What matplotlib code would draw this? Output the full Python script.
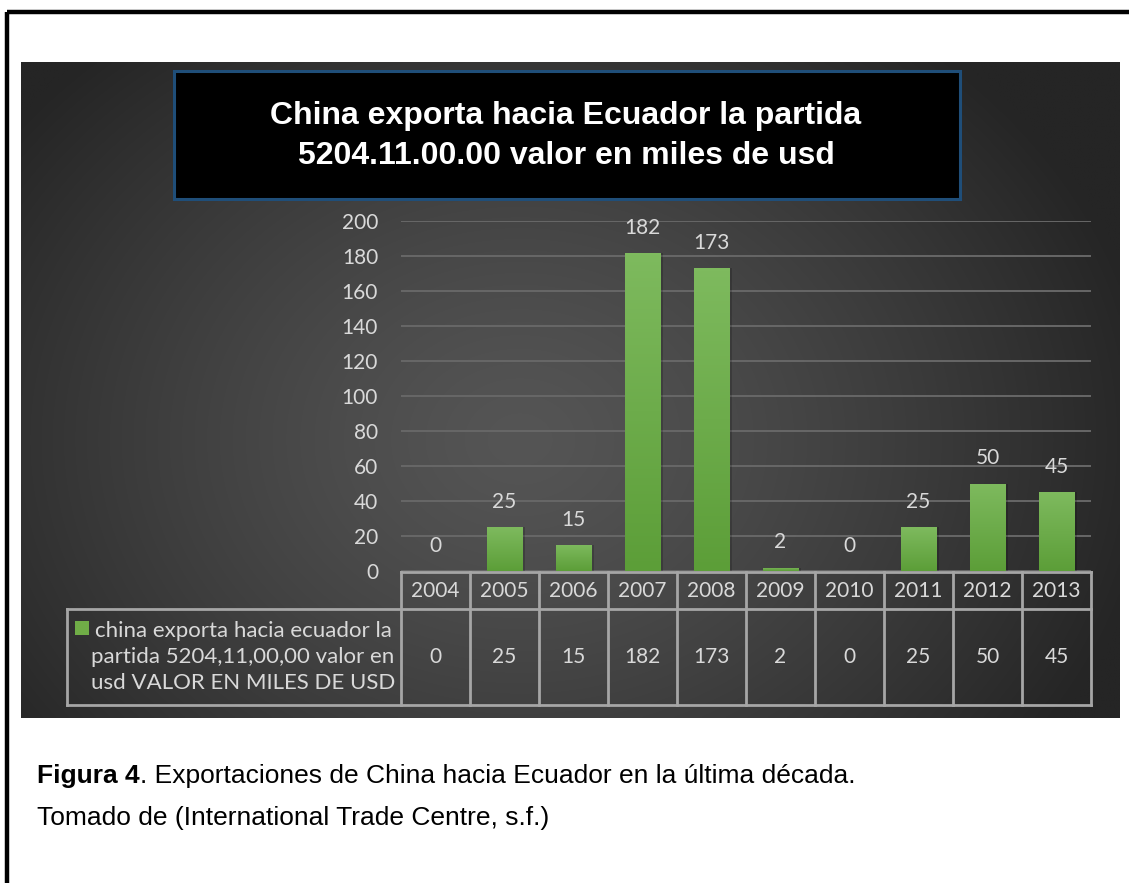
import numpy as np
import matplotlib
matplotlib.use("Agg")
import matplotlib.pyplot as plt
from matplotlib.patches import Rectangle

# ---- data ----
years = ["2004", "2005", "2006", "2007", "2008", "2009", "2010", "2011", "2012", "2013"]
values = [0, 25, 15, 182, 173, 2, 0, 25, 50, 45]
yticks = [0, 20, 40, 60, 80, 100, 120, 140, 160, 180, 200]
title = "China exporta hacia Ecuador la partida\n5204.11.00.00 valor en miles de usd"
series_label = "china exporta hacia ecuador la\npartida 5204,11,00,00 valor en\nusd VALOR EN MILES DE USD"
caption_bold = "Figura 4"
caption_rest = ". Exportaciones de China hacia Ecuador en la última década."
source = "Tomado de (International Trade Centre, s.f.)"

W, H = 1129, 883
DPI = 100
fig = plt.figure(figsize=(W / DPI, H / DPI), dpi=DPI)
fig.patch.set_facecolor("white")

# background pixel-coordinate axes
bg = fig.add_axes([0, 0, 1, 1])
bg.set_xlim(0, W)
bg.set_ylim(H, 0)
bg.axis("off")

# outer frame (top + left visible)
bg.plot([7, W + 5], [11.5, 11.5], color="black", lw=3.2, solid_capstyle="butt")
bg.plot([7, 7], [11.5, H + 5], color="black", lw=3.2, solid_capstyle="butt")

# dark panel with radial gradient
px0, px1, py0, py1 = 21, 1120, 62, 718
nx, ny = 400, 240
gx = np.linspace(px0, px1, nx)
gy = np.linspace(py0, py1, ny)
GX, GY = np.meshgrid(gx, gy)
cx, cy = 520, 440
d = np.sqrt(((GX - cx) / 640.0) ** 2 + ((GY - cy) / 520.0) ** 2)
d = np.clip(d, 0, 1)
light = np.array([0x55, 0x55, 0x55]) / 255.0
dark = np.array([0x25, 0x25, 0x25]) / 255.0
img = light[None, None, :] * (1 - d[..., None] ** 1.3) + dark[None, None, :] * (d[..., None] ** 1.3)
bg.imshow(img, extent=[px0, px1, py1, py0], aspect="auto", zorder=0, interpolation="bilinear")

# title box
bg.add_patch(Rectangle((174, 71), 786, 128, facecolor="black", edgecolor="#1f4e79", lw=2.2, zorder=2))
bg.text(566, 136, title, ha="center", va="center", color="white", fontsize=23,
        fontweight="bold", family="Liberation Sans", linespacing=1.4, zorder=3)

# plot axes
ax_l, ax_r, ax_top, ax_bot = 401, 1091, 221, 571
ax = fig.add_axes([ax_l / W, (H - ax_bot) / H, (ax_r - ax_l) / W, (ax_bot - ax_top) / H])
ax.patch.set_alpha(0)
x = np.arange(len(years))
for s in ax.spines.values():
    s.set_visible(False)
ax.set_yticks(yticks)
ax.set_yticklabels([str(t) for t in yticks])
ax.tick_params(axis="y", length=0, pad=16.5, labelsize=15, labelcolor="#d9d9d9")
for lab in ax.get_yticklabels():
    lab.set_family("Lato")
ax.set_xticks([])
ax.grid(axis="y", color="#676767", lw=1.4)
ax.set_axisbelow(True)

bars = ax.bar(x, values, width=0.52, color="#70ad47", zorder=3)
grad = np.linspace(0, 1, 100)[:, None]
top_c = np.array([0x7e, 0xba, 0x5e]) / 255.0
bot_c = np.array([0x5c, 0x9e, 0x38]) / 255.0
gimg = top_c[None, None, :] * (1 - grad[..., None]) + bot_c[None, None, :] * grad[..., None]
for b, v in zip(bars, values):
    if v <= 0:
        continue
    ax.add_patch(Rectangle((b.get_x() + 0.04, 0), b.get_width(), v, facecolor="black",
                           alpha=0.18, lw=0, zorder=2))
    im = ax.imshow(gimg, extent=[b.get_x(), b.get_x() + b.get_width(), 0, v],
                   aspect="auto", zorder=4)
    im.set_clip_path(b)
ax.set_xlim(-0.5, len(years) - 0.5)
ax.set_ylim(0, 200)

for xi, v in zip(x, values):
    ax.annotate(str(v), (xi, v), xytext=(0, 18), textcoords="offset points",
                ha="center", va="center", color="#d9d9d9", fontsize=15, family="Lato")

# data table
col_w = (ax_r - ax_l) / len(years)
row1_top, row1_bot, row2_bot = 572, 609, 705
leg_l = 67
lc = "#a6a6a6"
lw = 2.0
bg.plot([ax_l, ax_r], [row1_top, row1_top], color=lc, lw=lw, zorder=5)
bg.plot([leg_l, ax_r], [row1_bot, row1_bot], color=lc, lw=lw, zorder=5)
bg.plot([leg_l, ax_r], [row2_bot, row2_bot], color=lc, lw=lw, zorder=5)
bg.plot([leg_l, leg_l], [row1_bot, row2_bot], color=lc, lw=lw, zorder=5)
for i in range(len(years) + 1):
    xx = ax_l + i * col_w
    bg.plot([xx, xx], [row1_top, row2_bot], color=lc, lw=lw, zorder=5)
for i, (yr, v) in enumerate(zip(years, values)):
    xc = ax_l + (i + 0.5) * col_w
    bg.text(xc, 591, yr, ha="center", va="center", color="#d9d9d9", fontsize=15, family="Lato", zorder=6)
    bg.text(xc, 657, str(v), ha="center", va="center", color="#d9d9d9", fontsize=15, family="Lato", zorder=6)

# legend key + label
bg.add_patch(Rectangle((75, 621), 14, 14, facecolor="#70ad47", edgecolor="none", zorder=6))
bg.text(243, 657, series_label, ha="center", va="center", color="#d9d9d9", fontsize=16,
        family="Lato", linespacing=1.39, zorder=6)

# caption
t1 = bg.text(37, 776, caption_bold, ha="left", va="center", color="black", fontsize=19,
             fontweight="bold", family="Liberation Sans")
fig.canvas.draw()
bb = t1.get_window_extent()
inv = bg.transData.inverted()
x_end = inv.transform((bb.x1, bb.y0))[0]
bg.text(x_end, 776, caption_rest, ha="left", va="center", color="black", fontsize=19,
        family="Liberation Sans")
bg.text(37, 818, source, ha="left", va="center", color="black", fontsize=19, family="Liberation Sans")

fig.savefig("out.png", dpi=DPI, facecolor="white")
